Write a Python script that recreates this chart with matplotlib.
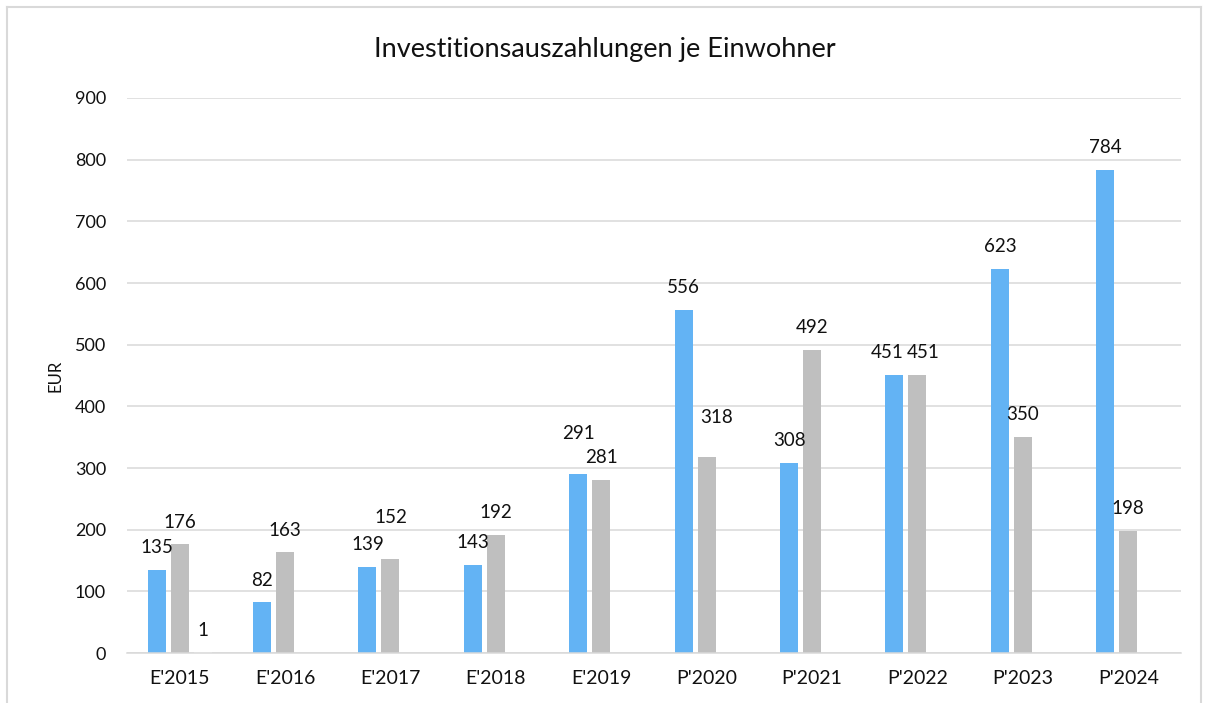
import matplotlib.pyplot as plt
from matplotlib.lines import Line2D
import numpy as np

plt.rcParams['font.family'] = ['Lato', 'DejaVu Sans']

categories = ["E'2015", "E'2016", "E'2017", "E'2018", "E'2019",
              "P'2020", "P'2021", "P'2022", "P'2023", "P'2024"]
series_a = [135, 82, 139, 143, 291, 556, 308, 451, 623, 784]
series_b = [176, 163, 152, 192, 281, 318, 492, 451, 350, 198]
series_c = [1, None, None, None, None, None, None, None, None, None]

title = 'Investitionsauszahlungen je Einwohner'
y_label = 'EUR'

# manual label nudges (dx, dy in points), like the hand-moved labels in the original
nudges = {(1, 2): (0, 14), (0, 4): (0, 13), (1, 5): (7, 12),
          (0, 7): (-5, 0), (1, 7): (4, 0)}

fig = plt.figure(figsize=(12.09, 7.03), dpi=100)
ax = fig.add_axes([0.105, 0.0711, 0.8718, 0.7895])

x = np.arange(len(categories))
w = 0.171
off = 0.218
colors = ['#63b3f4', '#bfbfbf', '#f7f7f7']

for i, vals in enumerate([series_a, series_b, series_c]):
    xs = x + (i - 1) * off
    hs = [v if v is not None else 0 for v in vals]
    ax.bar(xs, hs, width=w, color=colors[i], zorder=2)
    for j, v in enumerate(vals):
        if v is None:
            continue
        dx, dy = nudges.get((i, j), (0, 0))
        ax.annotate(str(v), (xs[j], v), xytext=(dx, 10 + dy),
                    textcoords='offset points', ha='center', va='bottom',
                    fontsize=13.5, color='#111111')

ax.set_xlim(-0.5, len(categories) - 0.5)
ax.set_ylim(0, 900)
ax.set_yticks(range(0, 901, 100))
ax.set_xticks(x)
ax.set_xticklabels(categories)
ax.tick_params(axis='both', length=0, labelsize=13, colors='#111111')
ax.tick_params(axis='x', labelsize=14, pad=12)
ax.tick_params(axis='y', pad=15)
ax.grid(axis='y', color='#d9d9d9', linewidth=1.1, zorder=0)
for s in ['top', 'right', 'left']:
    ax.spines[s].set_visible(False)
ax.spines['bottom'].set_color('#d9d9d9')
ax.spines['bottom'].set_linewidth(1.1)
ax.set_ylabel(y_label, fontsize=12, labelpad=8, color='#111111')

fig.text(0.5, 0.93, title, ha='center', va='center', fontsize=19.5, color='#111111')

# outer chart frame
fc = '#d9d9d9'
fig.add_artist(Line2D([7 / 1209, 7 / 1209], [0, 1 - 7 / 703], color=fc, lw=1.5))
fig.add_artist(Line2D([7 / 1209, 1201 / 1209], [1 - 7 / 703, 1 - 7 / 703], color=fc, lw=1.5))
fig.add_artist(Line2D([1201 / 1209, 1201 / 1209], [0, 1 - 7 / 703], color=fc, lw=1.5))

fig.savefig('out.png', dpi=100)
